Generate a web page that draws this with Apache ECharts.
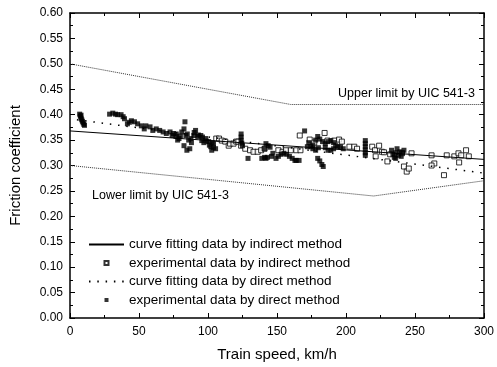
<!DOCTYPE html>
<html>
<head>
<meta charset="utf-8">
<script src="https://cdn.jsdelivr.net/npm/echarts@6/dist/echarts.min.js"></script>
<style>
  html, body { margin: 0; padding: 0; background: #fff; }
  #chart { width: 497px; height: 367px; }
</style>
</head>
<body>
<div id="chart"></div>
<script>
// fitted curves and UIC limits, [speed, friction]
var indirectFit = [[0, 0.368], [300, 0.312]];
var directFit = [[5, 0.390], [300, 0.285]];
var upperLimit = [[0, 0.50], [160, 0.42], [300, 0.42]];
var lowerLimit = [[0, 0.30], [220, 0.24], [300, 0.27]];

// experimental data by indirect method (open squares)
var indirectData = [
  [106, 0.353], [108, 0.353], [110, 0.349], [112.5, 0.347], [115, 0.339], [116, 0.343],
  [118.5, 0.343], [120.5, 0.347], [122, 0.347], [124, 0.339], [127, 0.333], [130.5, 0.330],
  [133, 0.327], [136, 0.327], [138.5, 0.330], [141, 0.333], [151, 0.330], [154, 0.327],
  [156.5, 0.330], [160, 0.330], [164, 0.330], [167, 0.330], [166.5, 0.359], [173.7, 0.351],
  [177, 0.345], [184.5, 0.364], [186.6, 0.349], [191.5, 0.349], [195, 0.351], [197, 0.347],
  [202.5, 0.337], [206, 0.337], [208, 0.333], [219, 0.337], [221, 0.330], [224, 0.339],
  [221.5, 0.318], [226, 0.327], [227.5, 0.326], [230, 0.308], [232, 0.322], [240.5, 0.324],
  [242, 0.298], [244, 0.288], [245.5, 0.294], [247.5, 0.324], [262, 0.320], [264, 0.304],
  [262, 0.300], [271, 0.281], [273, 0.320], [278.5, 0.318], [281.5, 0.324], [282, 0.306],
  [283.5, 0.320], [287, 0.330], [289, 0.318]
];

// experimental data by direct method (filled squares)
var directData = [
  [7, 0.401], [7.5, 0.397], [8, 0.393], [8.5, 0.390], [9, 0.387], [9.5, 0.384], [10, 0.381],
  [10.5, 0.379], [8, 0.399],
  [28.7, 0.401], [31, 0.403], [33, 0.401], [34.5, 0.400], [37, 0.400], [38.5, 0.396],
  [39.5, 0.392], [41.6, 0.382], [43, 0.385], [44.5, 0.388], [46.7, 0.386], [49, 0.382],
  [51.7, 0.378], [53.8, 0.372], [55, 0.378], [58, 0.376], [60, 0.369], [62.5, 0.372],
  [65, 0.369], [67.5, 0.366], [69.8, 0.363], [72.5, 0.366], [74, 0.359], [75, 0.363],
  [76.8, 0.357], [77, 0.362], [78, 0.350], [79, 0.353], [80, 0.358], [81, 0.366],
  [82.6, 0.372], [83.3, 0.386], [84, 0.359], [85, 0.362], [82.6, 0.339], [84.7, 0.330],
  [86, 0.350], [86.8, 0.333], [87.6, 0.353], [88, 0.345], [89.7, 0.359], [90, 0.365],
  [91, 0.369], [92.6, 0.357], [93, 0.360], [94.8, 0.359], [95.5, 0.349], [96, 0.356],
  [97, 0.345], [98.3, 0.353], [99, 0.348], [100.5, 0.347], [101, 0.340], [102, 0.337],
  [103, 0.345], [104, 0.343], [104, 0.335], [105.5, 0.333], [102.7, 0.330],
  [124, 0.362], [124, 0.356], [124, 0.350], [124.5, 0.344], [125, 0.339], [129, 0.314],
  [139, 0.314], [141, 0.316], [141, 0.333], [142, 0.343], [143.6, 0.339], [145, 0.336],
  [142, 0.314], [143, 0.316], [146, 0.318], [147, 0.324], [149.3, 0.314], [151, 0.318],
  [153, 0.322], [155, 0.324], [157, 0.322], [159, 0.318], [161, 0.314], [163, 0.310],
  [164, 0.310], [166, 0.310], [170, 0.368],
  [172, 0.337], [173, 0.345], [174.5, 0.337], [176, 0.340], [178, 0.350], [179.5, 0.357],
  [181, 0.352], [183, 0.347], [185, 0.343], [187, 0.347], [189, 0.349], [191, 0.345],
  [192.5, 0.339], [194, 0.337], [196, 0.337], [198, 0.333], [185, 0.335], [187, 0.330],
  [189, 0.330], [191, 0.333], [180, 0.335], [178, 0.330], [176, 0.333],
  [179.5, 0.314], [181, 0.309], [182.5, 0.302], [183.5, 0.298],
  [214, 0.349], [214, 0.343], [214, 0.337], [214, 0.331], [214, 0.325], [214, 0.320],
  [233, 0.330], [234, 0.322], [235, 0.316], [236, 0.325], [237, 0.333], [238, 0.320],
  [239, 0.327], [240, 0.318], [241, 0.325], [242, 0.330], [236, 0.314]
];

var xTicks = { min: 0, max: 300, interval: 50 };
var yTicks = { min: 0, max: 0.6, interval: 0.05 };

var legendNames = [
  'curve fitting data by indirect method',
  'experimental data by indirect method',
  'curve fitting data by direct method',
  'experimental data by direct method'
];

var font = 'Liberation Sans, Arial, sans-serif';
var squareIcon = 'path://M0,0L10,0L10,10L0,10Z';
var chart = echarts.init(document.getElementById('chart'));

function axisBase(extra) {
  var a = {
    type: 'value',
    axisLine: { show: true, onZero: false, lineStyle: { color: '#000', width: 1.5 } },
    axisTick: { show: true, inside: true, length: 5, lineStyle: { color: '#000', width: 1 } },
    minorTick: { show: true, splitNumber: 2, length: 3, lineStyle: { color: '#000', width: 1 } },
    splitLine: { show: false },
    axisLabel: { color: '#000', fontFamily: font, fontSize: 12 }
  };
  return Object.assign(a, extra);
}

var option = {
  backgroundColor: '#fff',
  animation: false,
  grid: { left: 70, right: 9, top: 13, bottom: 46, containLabel: false },
  xAxis: [
    axisBase({
      min: xTicks.min, max: xTicks.max, interval: xTicks.interval,
      name: 'Train speed, km/h', nameLocation: 'middle', nameGap: 29,
      nameTextStyle: { color: '#000', fontFamily: font, fontSize: 15 },
      axisLabel: { color: '#000', fontFamily: font, fontSize: 12, margin: 8 }
    }),
    axisBase({
      position: 'top', min: xTicks.min, max: xTicks.max, interval: xTicks.interval,
      axisLabel: { show: false }
    })
  ],
  yAxis: [
    axisBase({
      min: yTicks.min, max: yTicks.max, interval: yTicks.interval,
      name: 'Friction coefficient', nameLocation: 'middle', nameGap: 47,
      nameTextStyle: { color: '#000', fontFamily: font, fontSize: 15 },
      axisLabel: {
        color: '#000', fontFamily: font, fontSize: 12, margin: 7,
        formatter: function (v) { return v.toFixed(2); }
      }
    }),
    axisBase({
      position: 'right', min: yTicks.min, max: yTicks.max, interval: yTicks.interval,
      axisLabel: { show: false }
    })
  ],
  legend: {
    orient: 'vertical', left: 88, top: 237, padding: 0,
    itemWidth: 35, itemHeight: 4, itemGap: 3.5,
    symbolKeepAspect: true,
    textStyle: { color: '#000', fontFamily: font, fontSize: 13.5, lineHeight: 15 },
    data: [
      { name: legendNames[0], itemStyle: { opacity: 0 } },
      { name: legendNames[1], icon: squareIcon },
      { name: legendNames[2], itemStyle: { opacity: 0 } },
      { name: legendNames[3], icon: squareIcon }
    ]
  },
  graphic: [
    { type: 'text', left: 338, top: 87,
      style: { text: 'Upper limit by UIC 541-3', fill: '#000', font: '12.5px ' + font } },
    { type: 'text', left: 92, top: 189,
      style: { text: 'Lower limit by UIC 541-3', fill: '#000', font: '12.5px ' + font } }
  ],
  series: [
    {
      name: 'upper limit', type: 'line', data: upperLimit, symbol: 'none',
      lineStyle: { color: '#333', width: 1, type: [1, 1] }, z: 1
    },
    {
      name: 'lower limit', type: 'line', data: lowerLimit, symbol: 'none',
      lineStyle: { color: '#333', width: 1, type: [1, 1] }, z: 1
    },
    {
      name: legendNames[0], type: 'line', data: indirectFit,
      symbol: 'none', itemStyle: { color: '#000' },
      lineStyle: { color: '#000', width: 1 }, z: 3
    },
    {
      name: legendNames[1], type: 'scatter', data: indirectData,
      symbol: 'rect', symbolSize: 5,
      itemStyle: { color: '#fff', borderColor: '#000', borderWidth: 1 }, z: 2
    },
    {
      name: legendNames[2], type: 'line', data: directFit,
      symbol: 'none', itemStyle: { color: '#000' },
      lineStyle: { color: '#000', width: 1.5, type: [1.5, 6.8] }, z: 3
    },
    {
      name: legendNames[3], type: 'scatter', data: directData,
      symbol: 'rect', symbolSize: 5,
      itemStyle: { color: '#000' }, z: 2
    }
  ]
};

chart.setOption(option);
</script>
</body>
</html>
